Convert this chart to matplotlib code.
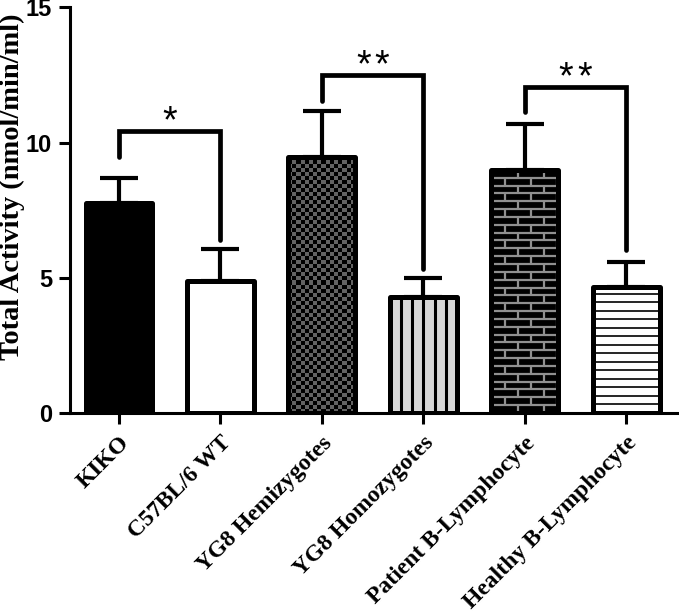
import numpy as np
import matplotlib
matplotlib.use("Agg")
import matplotlib.pyplot as plt
from matplotlib.collections import LineCollection
from matplotlib.transforms import offset_copy

# ---------------- data ----------------
categories = ["KIKO", "C57BL/6 WT", "YG8 Hemizygotes", "YG8 Homozygotes",
              "Patient B-Lymphocyte", "Healthy B-Lymphocyte"]
means = [7.75, 4.88, 9.47, 4.28, 9.00, 4.65]
errors = [0.95, 1.19, 1.69, 0.71, 1.68, 0.93]

# significance brackets: (left bar, right bar, bracket height, left leg end, right leg end, label)
br_left = [0, 2, 4]
br_right = [1, 3, 5]
br_height = [10.43, 12.49, 12.06]
br_left_end = [9.47, 11.53, 11.13]
br_right_end = [6.38, 5.34, 6.01]
br_labels = ["*", "**", "**"]

# ---------------- figure ----------------
W, H = 679, 614
fig = plt.figure(figsize=(W / 100, H / 100), dpi=100)
ax = fig.add_axes([70 / W, 1 - 413 / H, (677 - 70) / W, (413 - 7.3) / H])

x = np.arange(len(categories))
bw = 0.66
face = ["black", "white", "#5a5a5a", "#d9d9d9", "black", "white"]

bars = ax.bar(x, means, width=bw, color=face, edgecolor="none", zorder=2)

# --- patterns clipped to bars ---
# checkerboard (bar 2)
b = bars[2]
nx = 16
ny = int(round(means[2] * 27 / 4.0))
chk = (np.indices((ny, nx)).sum(axis=0) % 2).astype(float)
im = ax.imshow(chk, cmap=matplotlib.colors.ListedColormap(["black", "#636363"]),
               extent=(x[2] - bw / 2, x[2] + bw / 2, 0, means[2]),
               aspect="auto", interpolation="nearest", zorder=3, origin="lower")
im.set_clip_path(b)

# vertical lines (bar 3)
vl = ax.vlines(x[3] + np.arange(-2, 3) * bw / 6, 0, means[3], colors="black",
               linewidth=2.2, zorder=3)
vl.set_clip_path(bars[3])

# bricks (bar 4)
rowh = 0.29
brick = 0.26
segs = []
nrows = int(means[4] / rowh) + 1
for r in range(nrows):
    y0 = r * rowh
    segs.append([(x[4] - bw, y0), (x[4] + bw, y0)])
    off = 0 if r % 2 == 0 else brick / 2
    xs = np.arange(x[4] - bw / 2 - brick + off, x[4] + bw / 2 + brick, brick)
    for xv in xs:
        segs.append([(xv, y0), (xv, y0 + rowh)])
lc = LineCollection(segs, colors="#909090", linewidths=1.6, zorder=3)
ax.add_collection(lc)
lc.set_clip_path(bars[4])

# horizontal lines (bar 5)
hsp = 0.315
hl = ax.hlines(np.arange(hsp, means[5], hsp), x[5] - bw / 2, x[5] + bw / 2,
               colors="black", linewidth=1.2, zorder=3)
hl.set_clip_path(bars[5])

# outlines
ax.bar(x, means, width=bw, fill=False, edgecolor="black", linewidth=3.6,
       joinstyle="round", zorder=4)

# error bars (upper only)
ax.errorbar(x, means, yerr=[np.zeros(len(errors)), errors], fmt="none",
            ecolor="black", elinewidth=3.0, capsize=13.5, capthick=3.0, zorder=5)

# significance brackets
for l, r, h, le, re, lab in zip(br_left, br_right, br_height, br_left_end,
                                 br_right_end, br_labels):
    ax.plot([x[l], x[l], x[r], x[r]], [le, h, h, re], color="black",
            linewidth=3.4, solid_capstyle="round", solid_joinstyle="miter", zorder=5)
    n = len(lab)
    for k, ch in enumerate(lab):
        dx = (k - (n - 1) / 2) * 13.5  # points
        tr = offset_copy(ax.transData, fig=fig, x=dx, y=0, units="points")
        ax.text((x[l] + x[r]) / 2, h - 0.05, ch, transform=tr,
                ha="center", va="baseline", fontsize=27,
                family=["Liberation Sans", "DejaVu Sans"], zorder=6)

# axes styling
ax.set_xlim(-0.483, 5.50)
ax.set_ylim(0, 15)
ax.set_yticks([0, 5, 10, 15])
for s in ["top", "right"]:
    ax.spines[s].set_visible(False)
for s in ["left", "bottom"]:
    ax.spines[s].set_linewidth(2.2)
ax.tick_params(axis="both", width=2.2, length=8, direction="out")
ax.tick_params(axis="y", pad=5)
ax.set_yticklabels(["0", "5", "10", "15"], fontsize=17, fontweight="bold",
                   family=["Liberation Sans Narrow", "Liberation Sans"])
ax.set_xticks(x)
ax.set_xticklabels(categories, rotation=45, ha="right", rotation_mode="anchor",
                   fontsize=17, fontweight="bold", family=["Liberation Serif"])
ax.tick_params(axis="x", pad=6)
ax.set_ylabel("Total Activity (nmol/min/ml)", fontsize=20.5, fontweight="bold",
              family=["Liberation Serif"])
ax.yaxis.set_label_coords((25 - 70) / (677 - 70), (413 - 187) / (413 - 7.3))

fig.savefig("out.png", dpi=100)
